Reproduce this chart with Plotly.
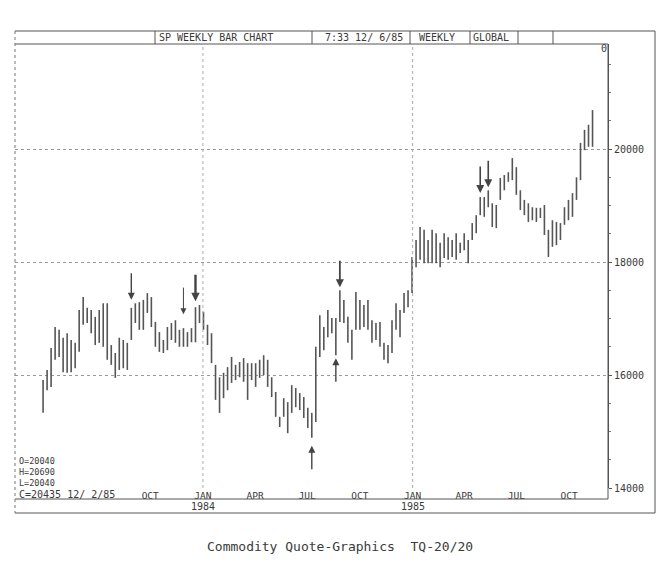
import numpy as np
import pandas as pd
import plotly.graph_objects as go

# ---------------- data ----------------
first_week = "1983-03-28"
n_weeks = 138

highs = [
    15910, 16090, 16480, 16850, 16800, 16660, 16740, 16620, 16570, 17150,
    17380, 17190, 17150, 17030, 17150, 17270, 17270, 16530, 16390, 16660,
    16620, 16570, 17190, 17270, 17290, 17330, 17450, 17380, 16940, 16760,
    16620, 16850, 16920, 16970, 16800, 16830, 16760, 16830, 17200, 17240,
    17120, 16890, 16740, 16180, 15960, 16040, 16140, 16320, 16180, 16230,
    16300, 16210, 16210, 16210, 16270, 16350, 16270, 15960, 15700, 15260,
    15590, 15520, 15820, 15770, 15680, 15610, 15420, 15330, 16500, 17060,
    16850, 17150, 17010, 17010, 17500, 17330, 17030, 16800, 17470, 17330,
    17240, 17330, 16970, 16920, 16940, 16570, 16530, 16970, 17270, 17150,
    17450, 17500, 18090, 18390, 18620, 18570, 18390, 18570, 18510, 18340,
    18510, 18440, 18390, 18510, 18340, 18510, 18390, 18690, 18830, 19150,
    19150, 19270, 19040, 19010, 19490, 19540, 19590, 19840, 19680, 19270,
    19100, 19040, 18970, 18960, 18960, 19010, 18570, 18740, 18710, 18690,
    18970, 19100, 19220, 19500, 20110, 20340, 20430, 20690,
]
lows = [
    15330, 15730, 15790, 16270, 16320, 16050, 16040, 16050, 16120, 16410,
    16890, 16920, 16740, 16530, 16570, 16500, 16270, 16180, 15950, 16090,
    16120, 16090, 16620, 16920, 16800, 16800, 17100, 16850, 16500, 16410,
    16390, 16440, 16620, 16570, 16500, 16500, 16500, 16580, 16580, 16920,
    16800, 16530, 16210, 15560, 15330, 15590, 15730, 15860, 15910, 15960,
    15880, 15560, 15910, 15790, 15950, 16000, 15790, 15610, 15260, 15080,
    15260, 14970, 15330, 15430, 15380, 15240, 15060, 14890, 15170, 16320,
    16440, 16670, 16740, 16350, 16940, 16920, 16570, 16270, 16800, 16800,
    16850, 16800, 16570, 16620, 16500, 16270, 16210, 16390, 16800, 16670,
    17100, 17200, 17450, 17910, 18040, 17980, 17980, 17980, 17980, 17910,
    18070, 18040, 18090, 18040, 18160, 18210, 17980, 18390, 18510, 18830,
    18800, 18970, 18620, 18600, 19100, 19270, 19420, 19450, 19190, 18920,
    18830, 18710, 18740, 18710, 18780, 18480, 18090, 18270, 18300, 18390,
    18660, 18740, 18800, 19100, 19450, 19980, 20040, 20040,
]
last_open = 20040
last_close = 20435
last_date_text = "12/ 2/85"

month_ticks = ["1983-10-01", "1984-01-01", "1984-04-01", "1984-07-01",
               "1984-10-01", "1985-01-01", "1985-04-01", "1985-07-01",
               "1985-10-01"]
month_labels = ["OCT", "JAN", "APR", "JUL", "OCT", "JAN", "APR", "JUL", "OCT"]
year_starts = ["1984-01-01", "1985-01-01"]
year_labels = ["1984", "1985"]
price_ticks = [14000, 16000, 18000, 20000]

# arrows: bar indices
down_arrows = [22, 35, 38, 74, 109, 111]
up_arrows = [67, 73]

# ---------------- figure ----------------
dates = pd.date_range(first_week, periods=n_weeks, freq="7D")

W, H = 661, 575
L, R, T, B = 15, 608, 44, 488
MONO = "DejaVu Sans Mono"
INK = "#3a3a3a"


def px(x):
    return (x - L) / (R - L)


def py(y):
    return (B - y) / (B - T)


# high-low bars drawn as vertical segments
seg_x, seg_y = [], []
for d, h, l in zip(dates, highs, lows):
    seg_x += [d, d, None]
    seg_y += [l, h, None]

fig = go.Figure()
fig.add_trace(go.Scatter(
    x=seg_x, y=seg_y, mode="lines",
    line=dict(color="#555555", width=1.6),
    connectgaps=False, showlegend=False, hoverinfo="skip",
))

shapes = []
line_ink = dict(color="#555", width=1)
# header row
shapes.append(dict(type="line", xref="paper", yref="paper",
                   x0=px(15), x1=px(655), y0=py(31), y1=py(31), line=line_ink))
shapes.append(dict(type="line", xref="paper", yref="paper",
                   x0=px(15), x1=px(608), y0=py(44), y1=py(44), line=line_ink))
for xd in [155, 312, 410, 470, 518, 553]:
    shapes.append(dict(type="line", xref="paper", yref="paper",
                       x0=px(xd), x1=px(xd), y0=py(31), y1=py(44), line=line_ink))
# right borders
shapes.append(dict(type="line", xref="paper", yref="paper",
                   x0=px(608), x1=px(608), y0=py(44), y1=py(499), line=line_ink))
shapes.append(dict(type="line", xref="paper", yref="paper",
                   x0=px(655), x1=px(655), y0=py(31), y1=py(513), line=line_ink))
# bottom lines
shapes.append(dict(type="line", xref="paper", yref="paper",
                   x0=px(15), x1=px(608), y0=py(499), y1=py(499), line=line_ink))
shapes.append(dict(type="line", xref="paper", yref="paper",
                   x0=px(15), x1=px(655), y0=py(513), y1=py(513), line=line_ink))
# left dotted border
shapes.append(dict(type="line", xref="paper", yref="paper",
                   x0=px(15), x1=px(15), y0=py(31), y1=py(513),
                   line=dict(color="#777", width=1, dash="dot")))
# vertical dotted year lines
for ys in year_starts:
    shapes.append(dict(type="line", xref="x", yref="paper",
                       x0=ys, x1=ys, y0=0, y1=1,
                       line=dict(color="#aaa", width=1, dash="dot")))

ann = []


def text(x, y, s, size=10, anchor="center"):
    ann.append(dict(xref="paper", yref="paper", x=px(x), y=py(y), text=s,
                    showarrow=False, xanchor=anchor, yanchor="middle",
                    font=dict(family=MONO, size=size, color=INK)))


text(157, 37, "SP WEEKLY BAR CHART", anchor="left")
text(364, 37, "7:33 12/ 6/85")
text(437, 37, "WEEKLY")
text(491, 37, "GLOBAL")
text(604, 48, "0")
# O/H/L block as one multi-line text
ann.append(dict(xref="paper", yref="paper", x=px(17), y=py(472),
                text=f"O={last_open}<br>H={highs[-1]}<br>L={lows[-1]}",
                showarrow=False, xanchor="left", yanchor="middle", align="left",
                font=dict(family=MONO, size=8.5, color=INK)))
text(17, 494, f"C={last_close} {last_date_text}", anchor="left")
for ys, yl in zip(year_starts, year_labels):
    ann.append(dict(xref="x", yref="paper", x=ys, y=py(507), text=yl,
                    showarrow=False, xanchor="center", yanchor="middle",
                    font=dict(family=MONO, size=10, color=INK)))
text(340, 546, "Commodity Quote-Graphics  TQ-20/20", size=13)

arrow_cfg = {22: (8, 1.4, 1.0), 35: (14, 1.0, 1.2), 38: (6, 2.4, 0.7),
             74: (3, 1.8, 0.9), 109: (4, 1.6, 1.0), 111: (3, 1.6, 1.0),
             67: (8, 1.4, 1.0), 73: (3, 1.4, 1.0)}
for i in down_arrows:
    so, w, sz = arrow_cfg[i]
    ann.append(dict(x=dates[i], y=highs[i], xref="x", yref="y", text="",
                    showarrow=True, ax=0, ay=-(28 + so), axref="pixel",
                    standoff=so, arrowhead=2, arrowsize=sz,
                    arrowwidth=w, arrowcolor="#444"))
for i in up_arrows:
    so, w, sz = arrow_cfg[i]
    ann.append(dict(x=dates[i], y=lows[i], xref="x", yref="y", text="",
                    showarrow=True, ax=0, ay=(25 + so), axref="pixel",
                    standoff=so, arrowhead=2, arrowsize=sz,
                    arrowwidth=w, arrowcolor="#444"))

fig.update_layout(
    width=W, height=H,
    margin=dict(l=L, r=W - R, t=T, b=H - B, pad=0),
    paper_bgcolor="white", plot_bgcolor="white",
    showlegend=False,
    shapes=shapes, annotations=ann,
    xaxis=dict(type="date", range=["1983-02-07", "1985-12-08"],
               tickvals=month_ticks, ticktext=month_labels,
               showgrid=False, zeroline=False, showline=False, ticks="",
               tickfont=dict(family=MONO, size=9.5, color=INK)),
    yaxis=dict(side="right", range=[14000, 21860], tickvals=price_ticks,
               ticktext=[str(v) for v in price_ticks],
               showgrid=True, gridcolor="#999", griddash="dot", gridwidth=1,
               zeroline=False, showline=True, linecolor="#555", linewidth=1,
               ticks="outside", ticklen=3, tickcolor="#555",
               minor=dict(ticks="outside", ticklen=2, dtick=500, tickcolor="#777",
                          showgrid=False),
               tickfont=dict(family=MONO, size=10, color=INK)),
)

fig.write_html("out.html",
               config={"displayModeBar": False},
               post_script="document.body.style.margin='0';"
                           "document.body.style.padding='0';")
